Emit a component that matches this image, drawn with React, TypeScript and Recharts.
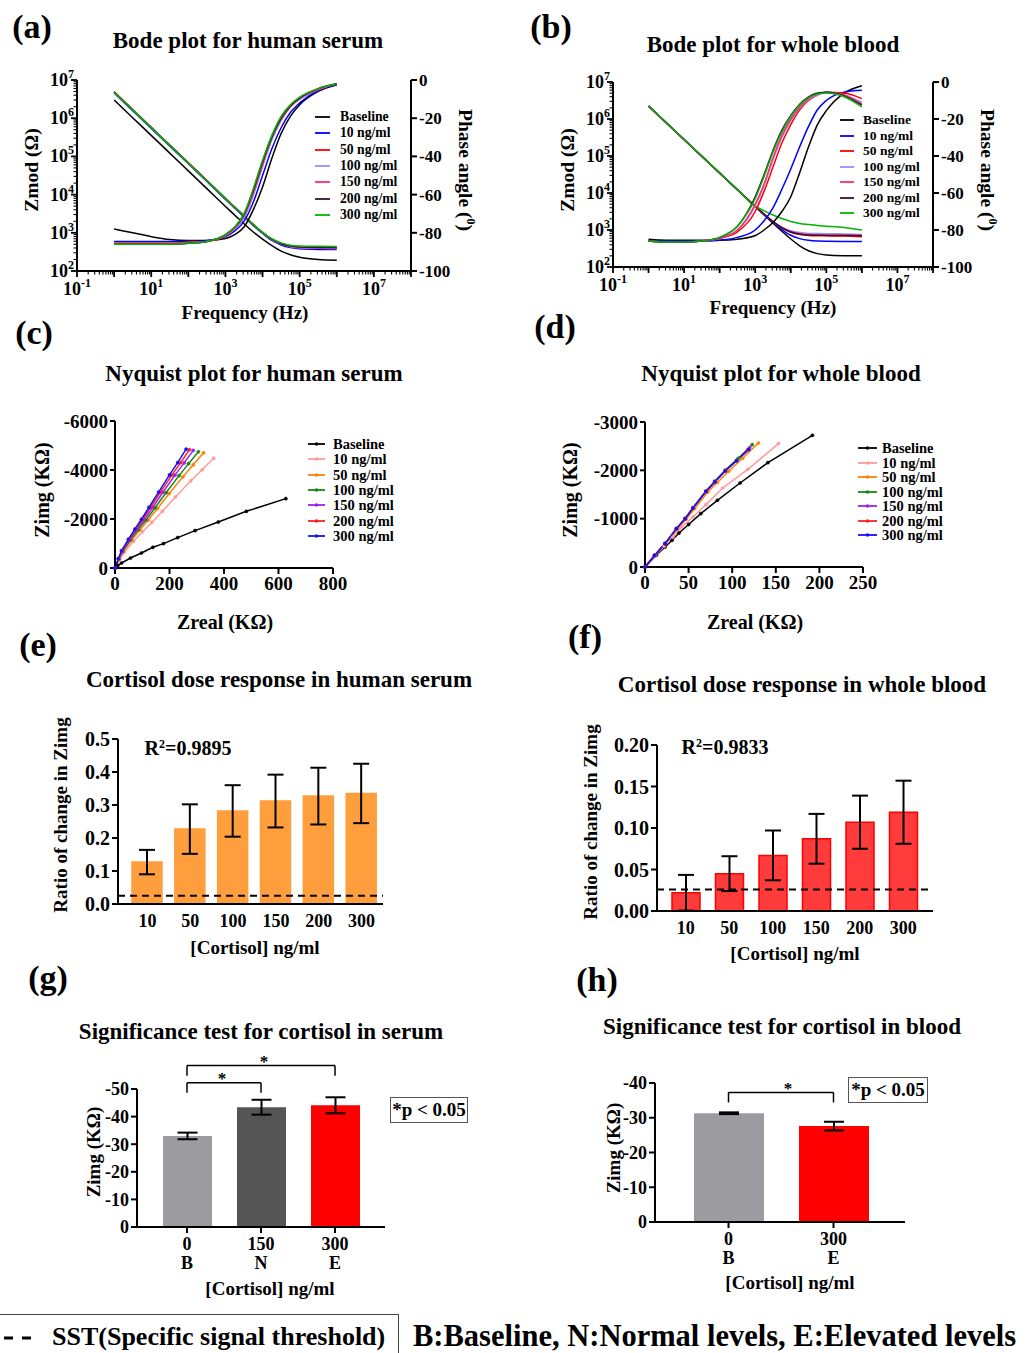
import React from 'react'
import { LineChart, Line, XAxis, YAxis, BarChart, Bar, ErrorBar, ReferenceLine, Cell } from 'recharts'

const FONT = '"Liberation Serif", "Times New Roman", serif'

// series names and colours
const CONC = ['Baseline', '10 ng/ml', '50 ng/ml', '100 ng/ml', '150 ng/ml', '200 ng/ml', '300 ng/ml']
const BODE_COLORS = ['#000000', '#0000ff', '#ff0000', '#8f8fff', '#ff2d6f', '#3d1030', '#00b400']
const NYQ_COLORS = ['#000000', '#ff9a9a', '#ff7f00', '#118811', '#a020f0', '#ff2020', '#1010ff']

// Bode: frequency grid (Hz)
const FREQ = [1, 3.16, 10, 31.6, 100, 316, 1000, 1780, 3160, 5620, 10000, 17800, 31600, 56200, 1e5, 3.16e5, 1e6]

// (a) human serum, Zmod (ohm) per series: Baseline, 10, 50, 100, 150, 200, 300
const SERUM_ZMOD = [
    [3.0e6, 1.03e6, 3.55e5, 1.22e5, 4.17e4, 1.43e4, 4.9e3, 2.9e3, 1.72e3, 1.05e3, 680, 460, 330, 265, 230, 200, 192],
    [4.6e6, 1.58e6, 5.4e5, 1.85e5, 6.4e4, 2.2e4, 7.5e3, 4.4e3, 2.6e3, 1.55e3, 960, 630, 480, 410, 380, 368, 365],
    [4.9e6, 1.68e6, 5.75e5, 1.97e5, 6.76e4, 2.32e4, 7.94e3, 4.67e3, 2.75e3, 1.64e3, 1015, 675, 512, 442, 415, 402, 400],
    [4.8e6, 1.65e6, 5.65e5, 1.94e5, 6.65e4, 2.28e4, 7.8e3, 4.6e3, 2.72e3, 1.62e3, 1005, 668, 505, 434, 405, 392, 390],
    [4.9e6, 1.68e6, 5.75e5, 1.97e5, 6.76e4, 2.32e4, 7.94e3, 4.67e3, 2.75e3, 1.64e3, 1015, 675, 512, 442, 415, 402, 400],
    [4.85e6, 1.66e6, 5.7e5, 1.95e5, 6.7e4, 2.3e4, 7.9e3, 4.65e3, 2.74e3, 1.64e3, 1020, 680, 518, 450, 425, 412, 410],
    [4.8e6, 1.65e6, 5.65e5, 1.94e5, 6.65e4, 2.28e4, 7.85e3, 4.65e3, 2.75e3, 1.65e3, 1030, 700, 545, 475, 453, 443, 440],
]
// (a) phase angle (deg)
const SERUM_PHASE = [
    [-78, -80, -82, -83.5, -84, -84, -83, -81, -77, -68, -56, -41, -28, -19, -13, -6, -2.5],
    [-84.5, -84.5, -84.5, -84.5, -84.5, -84, -82, -79, -74, -64, -50, -36, -25, -17, -12, -5.5, -2.5],
    [-85.5, -85.5, -85.5, -85.5, -85, -84.5, -81.5, -78, -72, -60, -45, -31, -21, -14, -10, -5, -2],
    [-86, -86, -86, -86, -85.5, -84.5, -81.5, -78, -72, -60, -45, -31, -21, -14, -10, -5, -2],
    [-85.5, -85.5, -85.5, -85.5, -85, -84.5, -81.5, -77.5, -71, -59, -44, -30, -20.5, -14, -9.5, -5, -2],
    [-86, -86, -86, -86, -85.5, -84.5, -81, -77, -70.5, -58, -43, -30, -20, -13.5, -9.5, -4.5, -2],
    [-86, -86, -86, -86, -85.5, -84.5, -81, -77, -70, -57, -42, -29, -19, -13, -9, -4.5, -2],
]

// (b) whole blood, Zmod (ohm)
const BLOOD_ZMOD = [
    [2.24e6, 7.9e5, 2.79e5, 9.8e4, 3.46e4, 1.22e4, 4.3e3, 2.56e3, 1.53e3, 925, 570, 375, 275, 230, 211, 202, 200],
    [2.24e6, 7.9e5, 2.79e5, 9.8e4, 3.46e4, 1.22e4, 4.32e3, 2.6e3, 1.6e3, 1.03e3, 720, 585, 525, 502, 495, 491, 490],
    [2.2e6, 7.8e5, 2.76e5, 9.7e4, 3.44e4, 1.22e4, 4.35e3, 2.65e3, 1.67e3, 1.14e3, 870, 760, 715, 700, 695, 685, 660],
    [2.2e6, 7.8e5, 2.76e5, 9.7e4, 3.44e4, 1.22e4, 4.37e3, 2.68e3, 1.72e3, 1.2e3, 950, 850, 810, 800, 795, 785, 760],
    [2.22e6, 7.85e5, 2.77e5, 9.75e4, 3.45e4, 1.22e4, 4.36e3, 2.66e3, 1.69e3, 1.16e3, 900, 790, 750, 738, 733, 728, 720],
    [2.24e6, 7.9e5, 2.79e5, 9.8e4, 3.46e4, 1.22e4, 4.36e3, 2.66e3, 1.68e3, 1.15e3, 885, 775, 735, 720, 715, 710, 700],
    [2.24e6, 7.9e5, 2.79e5, 9.8e4, 3.46e4, 1.23e4, 4.4e3, 3.3e3, 2.55e3, 2.05e3, 1.7e3, 1.5e3, 1.4e3, 1.32e3, 1.27e3, 1.17e3, 1.0e3],
]
// (b) phase angle (deg)
const BLOOD_PHASE = [
    [-85, -85.5, -85.5, -85.5, -85.5, -85, -83, -80, -76, -70, -62, -49, -35, -23, -15.5, -6, -2],
    [-86, -86, -86, -86, -85.5, -84, -80, -75, -68, -58, -47, -35, -24, -15, -10, -5.5, -4.5],
    [-86, -86.5, -86.5, -86, -84.5, -81, -70, -59, -46, -33, -23, -15, -10, -7, -5.5, -6, -9],
    [-86, -86.5, -86.5, -86, -84.5, -80, -67, -56, -42, -30, -21, -14, -9.5, -7, -5.5, -7, -11],
    [-86, -86.5, -86.5, -86, -84.5, -80, -66, -55, -41, -29, -20, -13.5, -9, -6.5, -5.5, -7, -12],
    [-86, -86.5, -86.5, -86, -84, -78, -62, -50, -37, -26, -18, -12, -8, -6, -5.5, -7.5, -12.5],
    [-86, -86.5, -86.5, -86, -84, -78, -63, -51, -38, -27, -18.5, -12.5, -8.5, -6.5, -6, -8, -13.5],
]
const PHASE_TICKS = [0, -20, -40, -60, -80, -100]

// (c) Nyquist, human serum: [Zreal, Zimg] in kOhm
const SERUM_NYQ = [
    [[0, 0], [10, -100], [24, -204], [57, -408], [97, -612], [139, -845], [178, -996], [230, -1240], [294, -1526], [379, -1877], [482, -2313], [627, -2831]],
    [[0, 0], [17, -350], [34, -640], [68, -1090], [101, -1480], [135, -1860], [174, -2320], [222, -2900], [278, -3560], [320, -4010], [362, -4480]],
    [[0, 0], [15, -365], [30, -670], [61, -1140], [91, -1550], [121, -1950], [156, -2430], [199, -3040], [249, -3720], [287, -4210], [325, -4700]],
    [[0, 0], [14, -370], [28, -680], [57, -1150], [85, -1570], [114, -1970], [147, -2460], [188, -3080], [235, -3770], [270, -4260], [306, -4745]],
    [[0, 0], [13, -375], [26, -690], [54, -1160], [80, -1580], [107, -1980], [138, -2470], [176, -3090], [220, -3790], [254, -4290], [287, -4800]],
    [[0, 0], [13, -380], [25, -700], [51, -1170], [76, -1590], [101, -1990], [131, -2480], [167, -3100], [209, -3800], [241, -4300], [273, -4830]],
    [[0, 0], [12, -380], [24, -700], [49, -1170], [73, -1590], [97, -1990], [125, -2480], [160, -3100], [200, -3800], [230, -4300], [261, -4850]],
]
// (d) Nyquist, whole blood
const BLOOD_NYQ = [
    [[0, 0], [13, -242], [23, -414], [31, -552], [39, -703], [50, -880], [64, -1105], [83, -1380], [109, -1738], [141, -2160], [192, -2725]],
    [[0, 0], [12, -240], [22, -430], [32, -620], [42, -827], [55, -1035], [70, -1291], [89, -1635], [118, -2021], [153, -2553]],
    [[0, 0], [11, -235], [23, -475], [37, -780], [47, -990], [57, -1210], [72, -1550], [83, -1750], [96, -1980], [112, -2250], [130, -2566]],
    [[0, 0], [11, -240], [23, -484], [36, -794], [46, -1000], [55, -1225], [70, -1575], [80, -1775], [92, -2005], [107, -2250], [123, -2532]],
    [[0, 0], [11, -240], [23, -484], [36, -794], [46, -1000], [55, -1221], [70, -1566], [80, -1760], [92, -1986], [105, -2200], [120, -2470]],
    [[0, 0], [11, -240], [23, -484], [36, -794], [46, -1000], [55, -1221], [70, -1566], [80, -1760], [92, -1986], [105, -2200], [118, -2430]],
    [[0, 0], [11, -240], [23, -484], [36, -794], [46, -1000], [55, -1221], [70, -1566], [80, -1760], [92, -1986], [105, -2200], [119, -2429]],
]

// (e)/(f) dose response
const DOSE = ['10', '50', '100', '150', '200', '300']
const SERUM_RATIO = [0.127, 0.227, 0.282, 0.312, 0.327, 0.335]
const SERUM_RATIO_SD = [0.037, 0.075, 0.078, 0.08, 0.086, 0.09]
const BLOOD_RATIO = [0.022, 0.045, 0.067, 0.087, 0.107, 0.119]
const BLOOD_RATIO_SD = [0.0215, 0.021, 0.03, 0.03, 0.032, 0.038]
const SST_SERUM = 0.025
const SST_BLOOD = 0.026

// (g)/(h) significance tests, Zimg (kOhm)
const SIG_SERUM_GROUP = ['B', 'N', 'E']
const SIG_SERUM_CONC = ['0', '150', '300']
const SIG_SERUM_ZIMG = [-33.0, -43.4, -44.1]
const SIG_SERUM_SD = [1.2, 2.7, 2.9]
const SIG_SERUM_COLORS = ['#9b9ba0', '#555555', '#ff0000']
const SIG_BLOOD_GROUP = ['B', 'E']
const SIG_BLOOD_CONC = ['0', '300']
const SIG_BLOOD_ZIMG = [-31.3, -27.6]
const SIG_BLOOD_SD = [0.25, 1.25]
const SIG_BLOOD_COLORS = ['#9b9ba0', '#ff0000']

// log-axis tick positions (decades + minor)
const LOG_X_TICKS: number[] = []
for (let e = -1; e < 8; e++) for (let d = 1; d < 10; d++) LOG_X_TICKS.push(d * 10 ** e)
LOG_X_TICKS.push(1e8)
const LOG_Y_TICKS: number[] = []
for (let e = 2; e < 7; e++) for (let d = 1; d < 10; d++) LOG_Y_TICKS.push(d * 10 ** e)
LOG_Y_TICKS.push(1e7)

const AXIS = { stroke: '#000', strokeWidth: 2 }
const tickFont = (size: number) => ({ fontSize: size, fontWeight: 'bold', fill: '#000', fontFamily: FONT })

function isDecade(v: number) {
    const lg = Math.log10(v)
    return Math.abs(lg - Math.round(lg)) < 1e-9
}

function LogTickX(props: any) {
    const { x, y, payload, labels } = props
    const v = payload.value
    const dec = isDecade(v)
    const e = Math.round(Math.log10(v))
    return (
        <g>
            <line x1={x} x2={x} y1={y} y2={y + (dec ? 6 : 3.5)} stroke="#000" strokeWidth={dec ? 1.8 : 1.1} />
            {dec && labels.includes(e) && (
                <text x={x} y={y + 24} textAnchor="middle" fontFamily={FONT} fontWeight="bold" fontSize={18} fill="#000">
                    10<tspan dy={-8} fontSize={12}>{e}</tspan>
                </text>
            )}
        </g>
    )
}

function LogTickY(props: any) {
    const { x, y, payload } = props
    const v = payload.value
    const dec = isDecade(v)
    const e = Math.round(Math.log10(v))
    return (
        <g>
            <line x1={x} x2={x - (dec ? 6 : 3.5)} y1={y} y2={y} stroke="#000" strokeWidth={dec ? 1.8 : 1.1} />
            {dec && (
                <text x={x - 3} y={y + 6} textAnchor="end" fontFamily={FONT} fontWeight="bold" fontSize={18} fill="#000">
                    10<tspan dy={-8} fontSize={12}>{e}</tspan>
                </text>
            )}
        </g>
    )
}

// concentration on the first line, group letter below
function TwoLineTick(props: any) {
    const { x, y, payload, index, tops, gap } = props
    return (
        <g>
            <text x={x} y={y + 15} textAnchor="middle" fontFamily={FONT} fontWeight="bold" fontSize={18} fill="#000">{tops[index]}</text>
            <text x={x} y={y + 15 + gap} textAnchor="middle" fontFamily={FONT} fontWeight="bold" fontSize={18} fill="#000">{payload.value}</text>
        </g>
    )
}

function T({ x, y, size = 23, rot = 0, children }: any) {
    return (
        <div style={{
            position: 'absolute', left: x, top: y, transform: `translate(-50%, -50%) rotate(${rot}deg)`,
            fontFamily: FONT, fontWeight: 'bold', fontSize: size, whiteSpace: 'nowrap', lineHeight: 1, color: '#000'
        }}>{children}</div>
    )
}

function SeriesLegend({ x, w, textX, y0, step, colors, size, marker }: any) {
    return (
        <>
            {CONC.map((name, k) => (
                <React.Fragment key={name}>
                    <svg style={{ position: 'absolute', left: x, top: y0 + k * step - 4 }} width={w} height={8}>
                        <line x1={0} x2={w} y1={4} y2={4} stroke={colors[k]} strokeWidth={1.8} />
                        {marker && <circle cx={w / 2} cy={4} r={1.8} fill={colors[k]} />}
                    </svg>
                    <div style={{
                        position: 'absolute', left: textX, top: y0 + k * step, transform: 'translateY(-50%)',
                        fontFamily: FONT, fontWeight: 'bold', fontSize: size, lineHeight: 1, whiteSpace: 'nowrap'
                    }}>{name}</div>
                </React.Fragment>
            ))}
        </>
    )
}

function bodeRows(zmod: number[][], phase: number[][]) {
    return FREQ.map((f, i) => {
        const row: Record<string, number> = { f }
        zmod.forEach((s, k) => { row['z' + k] = s[i] })
        phase.forEach((s, k) => { row['p' + k] = s[i] })
        return row
    })
}

function BodeChart({ zmod, phase, left, top, plotW, plotH }: any) {
    const rows = bodeRows(zmod, phase)
    return (
        <div style={{ position: 'absolute', left, top }}>
            <LineChart width={60 + plotW + 60} height={16 + plotH + 32} data={rows} margin={{ top: 16, right: 0, bottom: 0, left: 0 }}>
                <XAxis dataKey="f" type="number" scale="log" domain={[0.1, 1e8]} allowDataOverflow ticks={LOG_X_TICKS} interval={0}
                    tick={<LogTickX labels={[-1, 1, 3, 5, 7]} />} tickLine={false} tickSize={0} tickMargin={0} height={32} axisLine={AXIS} />
                <YAxis yAxisId="z" type="number" scale="log" domain={[100, 1e7]} allowDataOverflow ticks={LOG_Y_TICKS} interval={0}
                    tick={<LogTickY />} tickLine={false} tickSize={0} tickMargin={0} width={60} axisLine={AXIS} />
                <YAxis yAxisId="p" orientation="right" type="number" domain={[-100, 0]} ticks={PHASE_TICKS} interval={0} width={60}
                    tick={tickFont(17)} tickLine={AXIS} tickSize={6} tickMargin={2} axisLine={AXIS} />
                {zmod.map((_: number[], k: number) => (
                    <Line key={'z' + k} yAxisId="z" dataKey={'z' + k} type="monotone" stroke={BODE_COLORS[k]} strokeWidth={1.5} dot={false} activeDot={false} isAnimationActive={false} />
                ))}
                {phase.map((_: number[], k: number) => (
                    <Line key={'p' + k} yAxisId="p" dataKey={'p' + k} type="monotone" stroke={BODE_COLORS[k]} strokeWidth={1.5} dot={false} activeDot={false} isAnimationActive={false} />
                ))}
            </LineChart>
        </div>
    )
}

function NyquistChart({ series, left, top, plotW, plotH, xMax, xTicks, yMin, yTicks }: any) {
    return (
        <div style={{ position: 'absolute', left, top }}>
            <LineChart width={70 + plotW + 24} height={12 + plotH + 32} margin={{ top: 12, right: 24, bottom: 0, left: 0 }}>
                <XAxis dataKey="x" type="number" domain={[0, xMax]} ticks={xTicks} interval={0} height={32}
                    tick={tickFont(19)} tickLine={AXIS} tickSize={6} tickMargin={3} axisLine={AXIS} />
                <YAxis type="number" domain={[yMin, 0]} reversed ticks={yTicks} interval={0} width={70}
                    tick={tickFont(19)} tickLine={AXIS} tickSize={5} tickMargin={2} axisLine={AXIS} />
                {series.map((s: number[][], k: number) => (
                    <Line key={k} data={s.map(([x, y]) => ({ x, y }))} dataKey="y" type="linear" stroke={NYQ_COLORS[k]} strokeWidth={1.5}
                        dot={{ r: 1.6, fill: NYQ_COLORS[k], stroke: NYQ_COLORS[k], strokeWidth: 0.5 }} activeDot={false} isAnimationActive={false} />
                ))}
            </LineChart>
        </div>
    )
}

function DoseChart({ values, sd, sst, left, top, plotW, plotH, yMax, yTicks, digits, pad, barSize, fill, stroke }: any) {
    const rows = DOSE.map((c, i) => ({ c, v: values[i], e: sd[i] }))
    return (
        <div style={{ position: 'absolute', left, top }}>
            <BarChart width={70 + plotW + 12} height={12 + plotH + 30} data={rows} margin={{ top: 12, right: 12, bottom: 0, left: 0 }}>
                <XAxis dataKey="c" padding={pad} height={30} tick={tickFont(18)} tickLine={false} tickSize={6} tickMargin={4} axisLine={AXIS} />
                <YAxis type="number" domain={[0, yMax]} ticks={yTicks} interval={0} width={70} tickFormatter={(v: number) => v.toFixed(digits)}
                    tick={tickFont(20)} tickLine={AXIS} tickSize={6} tickMargin={2} axisLine={AXIS} />
                <Bar dataKey="v" fill={fill} stroke={stroke} strokeWidth={1.5} barSize={barSize} isAnimationActive={false}>
                    <ErrorBar dataKey="e" width={8} stroke="#000" strokeWidth={2} />
                </Bar>
                <ReferenceLine y={sst} stroke="#000" strokeWidth={2} strokeDasharray="7 5" />
            </BarChart>
        </div>
    )
}

function SigChart({ groups, conc, values, sd, colors, left, top, plotW, plotH, yMin, yTicks, pad, barSize, brackets, gap }: any) {
    const rows = groups.map((g: string, i: number) => ({ g, v: values[i], e: sd[i] }))
    return (
        <div style={{ position: 'absolute', left, top }}>
            <BarChart width={60 + plotW + 10} height={40 + plotH + 50} data={rows} margin={{ top: 40, right: 10, bottom: 0, left: 0 }}>
                <XAxis dataKey="g" padding={pad} height={50} interval={0} tick={<TwoLineTick tops={conc} gap={gap} />}
                    tickLine={AXIS} tickSize={6} tickMargin={2} axisLine={AXIS} />
                <YAxis type="number" domain={[yMin, 0]} reversed ticks={yTicks} interval={0} width={60}
                    tick={tickFont(18)} tickLine={AXIS} tickSize={6} tickMargin={2} axisLine={AXIS} />
                <Bar dataKey="v" barSize={barSize} isAnimationActive={false}>
                    {rows.map((r: any, i: number) => <Cell key={r.g} fill={colors[i]} />)}
                    <ErrorBar dataKey="e" width={10} stroke="#000" strokeWidth={2} />
                </Bar>
                {brackets.map(([a, b, yTop, yLow]: any, i: number) => (
                    <React.Fragment key={i}>
                        <ReferenceLine ifOverflow="visible" stroke="#000" strokeWidth={1.5} segment={[{ x: a, y: yTop }, { x: b, y: yTop }]} />
                        <ReferenceLine ifOverflow="visible" stroke="#000" strokeWidth={1.5} segment={[{ x: a, y: yTop }, { x: a, y: yLow }]} />
                        <ReferenceLine ifOverflow="visible" stroke="#000" strokeWidth={1.5} segment={[{ x: b, y: yTop }, { x: b, y: yLow }]} />
                    </React.Fragment>
                ))}
            </BarChart>
        </div>
    )
}

function PBox({ x, y, w, h }: any) {
    return (
        <div style={{
            position: 'absolute', left: x, top: y, width: w, height: h, border: '1px solid #555', boxSizing: 'border-box',
            fontFamily: FONT, fontWeight: 'bold', fontSize: 19, display: 'flex', alignItems: 'center', justifyContent: 'center', whiteSpace: 'nowrap'
        }}>*p &lt; 0.05</div>
    )
}

export default function App() {
    return (
        <div style={{ position: 'absolute', left: 0, top: 0, width: 1027, height: 1353, background: '#fff', overflow: 'hidden' }}>
            {/* (a) */}
            <T x={32} y={27} size={34}>(a)</T>
            <T x={248} y={40}>Bode plot for human serum</T>
            <BodeChart zmod={SERUM_ZMOD} phase={SERUM_PHASE} left={17} top={64} plotW={334} plotH={191} />
            <T x={32} y={170} size={19.5} rot={-90}>Zmod (Ω)</T>
            <T x={466} y={170} size={19.5} rot={90}>Phase angle (<sup style={{ fontSize: 12 }}>0</sup>)</T>
            <T x={245} y={312} size={19}>Frequency (Hz)</T>
            <SeriesLegend x={315} w={15} textX={340} y0={117} step={16.3} colors={BODE_COLORS} size={13.7} />

            {/* (b) */}
            <T x={551} y={27} size={34}>(b)</T>
            <T x={773} y={44}>Bode plot for whole blood</T>
            <BodeChart zmod={BLOOD_ZMOD} phase={BLOOD_PHASE} left={553} top={66} plotW={320} plotH={185} />
            <T x={568} y={170} size={19.5} rot={-90}>Zmod (Ω)</T>
            <T x={988} y={170} size={19.5} rot={90}>Phase angle (<sup style={{ fontSize: 12 }}>0</sup>)</T>
            <T x={773} y={307} size={19}>Frequency (Hz)</T>
            <SeriesLegend x={840} w={14} textX={863} y0={120} step={15.5} colors={BODE_COLORS} size={13.5} />

            {/* (c) */}
            <T x={34} y={333} size={34}>(c)</T>
            <T x={254} y={373}>Nyquist plot for human serum</T>
            <NyquistChart series={SERUM_NYQ} left={45} top={409} plotW={218} plotH={147} xMax={800} xTicks={[0, 200, 400, 600, 800]}
                yMin={-6000} yTicks={[0, -2000, -4000, -6000]} />
            <T x={42} y={490} size={20} rot={-90}>Zimg (KΩ)</T>
            <T x={225} y={622} size={20}>Zreal (KΩ)</T>
            <SeriesLegend x={308} w={17} textX={333} y0={444} step={15.3} colors={NYQ_COLORS} size={14.5} marker />

            {/* (d) */}
            <T x={555} y={327} size={34}>(d)</T>
            <T x={781} y={373}>Nyquist plot for whole blood</T>
            <NyquistChart series={BLOOD_NYQ} left={575} top={410} plotW={218} plotH={145} xMax={250} xTicks={[0, 50, 100, 150, 200, 250]}
                yMin={-3000} yTicks={[0, -1000, -2000, -3000]} />
            <T x={570} y={490} size={20} rot={-90}>Zimg (KΩ)</T>
            <T x={755} y={622} size={20}>Zreal (KΩ)</T>
            <SeriesLegend x={858} w={19} textX={882} y0={448} step={14.5} colors={NYQ_COLORS} size={14.5} marker />

            {/* (e) */}
            <T x={38} y={645} size={34}>(e)</T>
            <T x={279} y={679}>Cortisol dose response in human serum</T>
            <DoseChart values={SERUM_RATIO} sd={SERUM_RATIO_SD} sst={SST_SERUM} left={48} top={727} plotW={265} plotH={165}
                yMax={0.5} yTicks={[0, 0.1, 0.2, 0.3, 0.4, 0.5]} digits={1} pad={{ left: 8, right: 0 }} barSize={30} fill="#ff9e3d" stroke="#ff9e3d" />
            <T x={188} y={748} size={20}>R<sup style={{ fontSize: 12 }}>2</sup>=0.9895</T>
            <T x={60} y={815} size={19} rot={-90}>Ratio of change in Zimg</T>
            <T x={255} y={947} size={19}>[Cortisol] ng/ml</T>

            {/* (f) */}
            <T x={585} y={637} size={34}>(f)</T>
            <T x={802} y={684}>Cortisol dose response in whole blood</T>
            <DoseChart values={BLOOD_RATIO} sd={BLOOD_RATIO_SD} sst={SST_BLOOD} left={587} top={733} plotW={276} plotH={166}
                yMax={0.2} yTicks={[0, 0.05, 0.1, 0.15, 0.2]} digits={2} pad={{ left: 7, right: 8 }} barSize={28} fill="#ff3b3b" stroke="#ff0000" />
            <T x={725} y={747} size={20}>R<sup style={{ fontSize: 12 }}>2</sup>=0.9833</T>
            <T x={590} y={822} size={19} rot={-90}>Ratio of change in Zimg</T>
            <T x={795} y={953} size={19}>[Cortisol] ng/ml</T>

            {/* (g) */}
            <T x={48} y={978} size={34}>(g)</T>
            <T x={261} y={1031}>Significance test for cortisol in serum</T>
            <SigChart groups={SIG_SERUM_GROUP} conc={SIG_SERUM_CONC} values={SIG_SERUM_ZIMG} sd={SIG_SERUM_SD} colors={SIG_SERUM_COLORS}
                left={77} top={1049} plotW={248} plotH={138} yMin={-50} yTicks={[0, -10, -20, -30, -40, -50]} pad={{ left: 13, right: 13 }}
                barSize={49} gap={19} brackets={[['B', 'N', -52.3, -48.6], ['B', 'E', -58.5, -54.8]]} />
            <T x={222} y={1078} size={17}>*</T>
            <T x={264} y={1061} size={17}>*</T>
            <PBox x={390} y={1097} w={78} h={26} />
            <T x={93} y={1152} size={19} rot={-90}>Zimg (KΩ)</T>
            <T x={270} y={1288} size={19}>[Cortisol] ng/ml</T>

            {/* (h) */}
            <T x={597} y={980} size={34}>(h)</T>
            <T x={782} y={1026}>Significance test for cortisol in blood</T>
            <SigChart groups={SIG_BLOOD_GROUP} conc={SIG_BLOOD_CONC} values={SIG_BLOOD_ZIMG} sd={SIG_BLOOD_SD} colors={SIG_BLOOD_COLORS}
                left={595} top={1043} plotW={250} plotH={139} yMin={-40} yTicks={[0, -10, -20, -30, -40]} pad={{ left: 21, right: 19 }}
                barSize={70} gap={18.5} brackets={[['B', 'E', -37.3, -34.4]]} />
            <T x={788} y={1088} size={17}>*</T>
            <PBox x={848} y={1077} w={80} h={26} />
            <T x={613} y={1148} size={19} rot={-90}>Zimg (KΩ)</T>
            <T x={790} y={1282} size={19}>[Cortisol] ng/ml</T>

            {/* bottom notes */}
            <div style={{ position: 'absolute', left: 0, top: 1314, width: 398, height: 45, borderTop: '1.5px solid #444', borderRight: '1.5px solid #444' }} />
            <svg style={{ position: 'absolute', left: 4, top: 1334 }} width={40} height={8}>
                <line x1={0} x2={36} y1={4} y2={4} stroke="#000" strokeWidth={3} strokeDasharray="9 9" />
            </svg>
            <div style={{ position: 'absolute', left: 52, top: 1324, fontFamily: FONT, fontWeight: 'bold', fontSize: 26, lineHeight: 1, whiteSpace: 'nowrap' }}>
                SST(Specific signal threshold)
            </div>
            <div style={{ position: 'absolute', left: 413, top: 1321, fontFamily: FONT, fontWeight: 'bold', fontSize: 30.5, lineHeight: 1, whiteSpace: 'nowrap' }}>
                B:Baseline, N:Normal levels, E:Elevated levels
            </div>
        </div>
    )
}
